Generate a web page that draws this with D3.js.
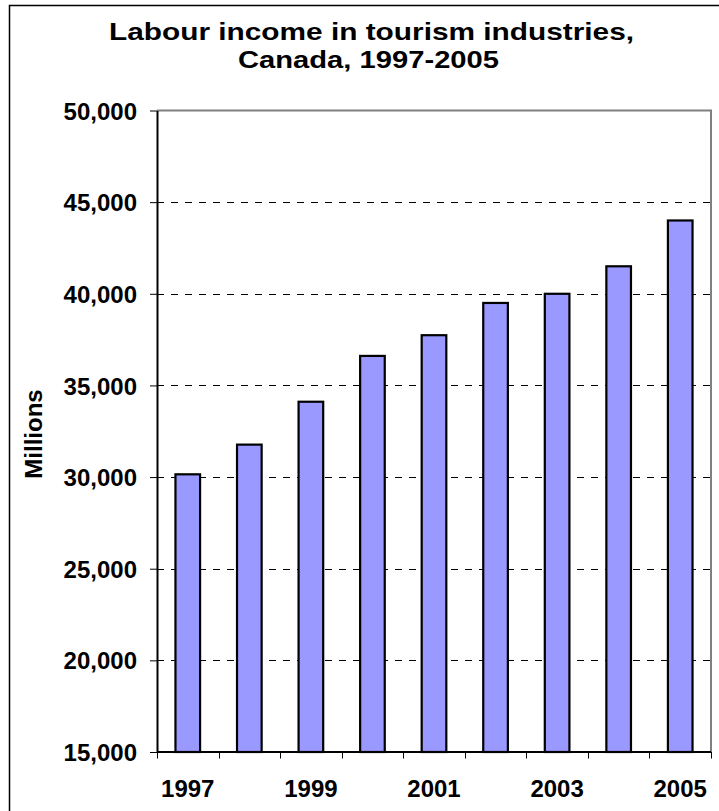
<!DOCTYPE html>
<html>
<head>
<meta charset="utf-8">
<script src="https://cdn.jsdelivr.net/npm/d3@7"></script>
<style>
  html, body { margin: 0; padding: 0; background: #fff; }
  svg { display: block; }
  text { font-family: "Liberation Sans", Arial, sans-serif; font-weight: bold; fill: #000; }
</style>
</head>
<body>
<div id="chart"></div>
<script>
const titleLines = ["Labour income in tourism industries,", "Canada, 1997-2005"];
const yAxisTitle = "Millions";
const years = ["1997", "1998", "1999", "2000", "2001", "2002", "2003", "2004", "2005"];
const incomeValues = [30150, 31770, 34110, 36610, 37740, 39500, 40000, 41500, 44000];
const yTicks = [15000, 20000, 25000, 30000, 35000, 40000, 45000, 50000];
const xLabelYears = ["1997", "1999", "2001", "2003", "2005"];

const W = 719, H = 811;
const plot = { left: 157, right: 711, top: 110.5, bottom: 752 };

const svg = d3.select("#chart").append("svg")
  .attr("width", W).attr("height", H);

svg.append("rect").attr("width", W).attr("height", H).attr("fill", "#fff");

// outer frame (only left and top edges visible)
svg.append("path")
  .attr("d", `M9.5,${H} V5.5 H${W}`)
  .attr("fill", "none").attr("stroke", "#000").attr("stroke-width", 1.5);

// title (glyphs stretched horizontally as in the reference)
svg.append("text").attr("x", 109).attr("y", 40)
  .attr("font-size", 24.5).attr("textLength", 525).attr("lengthAdjust", "spacingAndGlyphs")
  .text(titleLines[0]);
svg.append("text").attr("x", 238).attr("y", 67.5)
  .attr("font-size", 24.5).attr("textLength", 261).attr("lengthAdjust", "spacingAndGlyphs")
  .text(titleLines[1]);

const x = d3.scaleBand().domain(years).range([plot.left, plot.right]).paddingInner(0).paddingOuter(0);
const y = d3.scaleLinear().domain([15000, 50000]).range([plot.bottom, plot.top]);

// gridlines
svg.append("g").selectAll("line")
  .data(yTicks.filter(d => d > 15000 && d < 50000))
  .join("line")
  .attr("x1", plot.left).attr("x2", plot.right)
  .attr("y1", d => Math.round(y(d)) + 0.5).attr("y2", d => Math.round(y(d)) + 0.5)
  .attr("stroke", "#000").attr("stroke-width", 1)
  .attr("stroke-dasharray", "7,7");

// plot border top & right (grey)
svg.append("path")
  .attr("d", `M${plot.left},${plot.top} H${plot.right} V${plot.bottom}`)
  .attr("fill", "none").attr("stroke", "#808080").attr("stroke-width", 2);

// bars
const bw = x.bandwidth() * 0.4;
svg.append("g").selectAll("rect")
  .data(years.map((yr, i) => ({ yr, v: incomeValues[i] })))
  .join("rect")
  .attr("x", d => x(d.yr) + (x.bandwidth() - bw) / 2)
  .attr("width", bw)
  .attr("y", d => y(d.v))
  .attr("height", d => y(15000) - y(d.v))
  .attr("fill", "#9999FF")
  .attr("stroke", "#000").attr("stroke-width", 2.2);

// y axis
const yAxis = d3.axisLeft(y).tickValues(yTicks)
  .tickFormat(d3.format(",")).tickSizeInner(7).tickSizeOuter(0).tickPadding(13);
const gy = svg.append("g").attr("transform", `translate(${plot.left},0)`).call(yAxis);
gy.select(".domain").attr("stroke", "#000").attr("stroke-width", 2);
gy.selectAll(".tick line").attr("stroke", "#000").attr("stroke-width", 1);
gy.selectAll(".tick text")
  .attr("font-size", 24).attr("font-family", "Liberation Sans, Arial, sans-serif")
  .attr("font-weight", "bold").attr("fill", "#000").attr("dy", "0.36em");

// x axis: ticks at category boundaries
const boundaries = years.map(yr => x(yr)).concat([plot.right]);
svg.append("line")
  .attr("x1", plot.left).attr("x2", plot.right)
  .attr("y1", plot.bottom).attr("y2", plot.bottom)
  .attr("stroke", "#000").attr("stroke-width", 2);
svg.append("g").selectAll("line")
  .data(boundaries)
  .join("line")
  .attr("x1", d => Math.round(d) + 0.5).attr("x2", d => Math.round(d) + 0.5)
  .attr("y1", plot.bottom).attr("y2", plot.bottom + 6.5)
  .attr("stroke", "#000").attr("stroke-width", 1);
svg.append("g").selectAll("text")
  .data(xLabelYears)
  .join("text")
  .attr("x", d => x(d) + x.bandwidth() / 2)
  .attr("y", 797)
  .attr("text-anchor", "middle")
  .attr("font-size", 24)
  .text(d => d);

// y axis title
svg.append("text")
  .attr("transform", `translate(42,434) rotate(-90)`)
  .attr("text-anchor", "middle")
  .attr("font-size", 24)
  .text(yAxisTitle);
</script>
</body>
</html>
